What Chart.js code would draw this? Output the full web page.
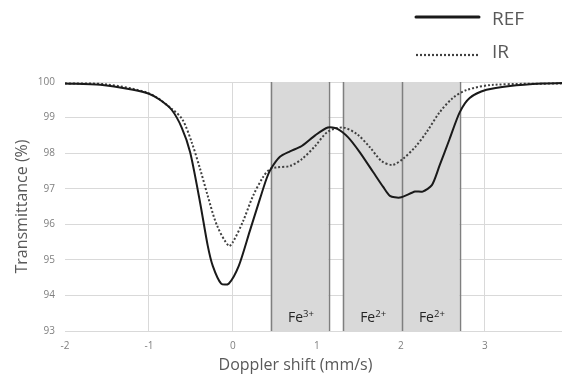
<!DOCTYPE html>
<html>
<head>
<meta charset="utf-8">
<script src="https://cdn.jsdelivr.net/npm/chart.js@4/dist/chart.umd.min.js"></script>
<style>
  html, body { margin: 0; padding: 0; background: #fff; }
  #wrap { width: 563px; height: 378px; }
</style>
</head>
<body>
<div id="wrap"><canvas id="chartMoss"></canvas></div>
<script>
// solid curve (REF)
const refX = [-2, -1.58, -1.19, -1.0, -0.87, -0.73, -0.61, -0.51, -0.39, -0.30, -0.24, -0.14, -0.05, 0.07, 0.20, 0.32, 0.40,
  0.45, 0.56, 0.68, 0.82, 0.98, 1.13, 1.24, 1.37, 1.51, 1.67, 1.79, 1.87, 1.99, 2.17, 2.26, 2.37, 2.46, 2.58, 2.70, 2.82,
  3.02, 3.30, 3.69, 3.92];
const refY = [99.96, 99.92, 99.78, 99.67, 99.5, 99.22, 98.72, 98.03, 96.6, 95.4, 94.83, 94.33, 94.33, 94.83, 95.8, 96.7, 97.28,
  97.55, 97.9, 98.05, 98.2, 98.5, 98.72, 98.69, 98.45, 98.03, 97.47, 97.05, 96.8, 96.75, 96.92, 96.92, 97.1, 97.64, 98.39, 99.14, 99.55,
  99.78, 99.89, 99.96, 99.97];

// dotted curve (IR)
const irX = [-2, -1.5, -1.0, -0.73, -0.60, -0.49, -0.39, -0.30, -0.19, -0.05, 0.0, 0.12, 0.24, 0.36, 0.44,
  0.52, 0.68, 0.82, 0.98, 1.13, 1.31, 1.48, 1.63, 1.77, 1.90, 2.02, 2.17, 2.31, 2.46, 2.62, 2.79, 3.10, 3.92];
const irY = [99.96, 99.93, 99.68, 99.25, 98.94, 98.3, 97.55, 96.8, 95.97, 95.39, 95.5, 96.08, 96.8, 97.33, 97.55,
  97.6, 97.64, 97.83, 98.2, 98.6, 98.72, 98.53, 98.17, 97.78, 97.67, 97.83, 98.17, 98.6, 99.14, 99.55, 99.78, 99.92, 99.96];

const seriesNames = ['REF', 'IR'];

// shaded bands and the vertical lines bounding them
const bandSpans = [[0.45, 1.14], [1.31, 2.70]];
const bandLines = [0.45, 1.14, 1.31, 2.01, 2.70];
const bandLabelX = [0.81, 1.67, 2.37];
const bandIons = ['3+', '2+', '2+'];

const xTicks = [-2, -1, 0, 1, 2, 3];
const xTitle = 'Doppler shift (mm/s)';

const toPts = (xs, ys) => xs.map((x, i) => ({x: x, y: ys[i]}));

const bandsPlugin = {
    id: 'bands',
    beforeDraw(chart) {
        const {ctx, chartArea, scales} = chart;
        const sx = scales.x;
        ctx.save();
        ctx.fillStyle = '#d9d9d9';
        bandSpans.forEach(([a, b]) => {
            const x1 = sx.getPixelForValue(a);
            const x2 = sx.getPixelForValue(b);
            ctx.fillRect(x1, chartArea.top, x2 - x1, chartArea.bottom - chartArea.top);
        });
        ctx.restore();
    },
    beforeDatasetsDraw(chart) {
        const {ctx, chartArea, scales} = chart;
        const sx = scales.x;
        ctx.save();
        ctx.strokeStyle = '#7f7f7f';
        ctx.lineWidth = 1.5;
        bandLines.forEach(v => {
            const x = Math.round(sx.getPixelForValue(v)) + 0.5;
            ctx.beginPath();
            ctx.moveTo(x, chartArea.top);
            ctx.lineTo(x, chartArea.bottom);
            ctx.stroke();
        });
        // Fe labels
        ctx.fillStyle = '#262626';
        ctx.textBaseline = 'alphabetic';
        bandLabelX.forEach((v, i) => {
            const cx = sx.getPixelForValue(v);
            ctx.font = '14px "Open Sans"';
            const w1 = ctx.measureText('Fe').width;
            ctx.font = '9.5px "Open Sans"';
            const w2 = ctx.measureText(bandIons[i]).width;
            const left = cx - (w1 + w2) / 2;
            const base = chartArea.bottom - 9;
            ctx.font = '14px "Open Sans"';
            ctx.textAlign = 'left';
            ctx.fillText('Fe', left, base);
            ctx.font = '9.5px "Open Sans"';
            ctx.fillText(bandIons[i], left + w1, base - 5);
        });
        ctx.restore();
    }
};

const legendPlugin = {
    id: 'sideLegend',
    afterDraw(chart) {
        const {ctx, chartArea} = chart;
        ctx.save();
        chart.data.datasets.forEach((ds, i) => {
            const y = 17 + i * 38;
            ctx.strokeStyle = ds.borderColor;
            ctx.lineWidth = i === 0 ? 3 : 2.2;
            ctx.setLineDash(ds.borderDash || []);
            ctx.lineCap = i === 0 ? 'round' : 'butt';
            ctx.beginPath();
            ctx.moveTo(416, y);
            ctx.lineTo(479, y);
            ctx.stroke();
            ctx.setLineDash([]);
            ctx.fillStyle = '#595959';
            ctx.font = '19px "Open Sans"';
            ctx.textAlign = 'left';
            ctx.textBaseline = 'middle';
            ctx.fillText(ds.label, 492, y + (i === 0 ? 3 : -2));
        });
        // x axis title, sits a bit left of the plot centre like the original
        ctx.fillStyle = '#595959';
        ctx.font = '16px "Open Sans"';
        ctx.textAlign = 'center';
        ctx.textBaseline = 'middle';
        ctx.fillText(xTitle, (chartArea.left + chartArea.right) / 2 - 18, 365);
        ctx.restore();
    }
};

const ctx = document.getElementById('chartMoss');
new Chart(ctx, {
    type: 'line',
    data: {
        datasets: [
            {
                label: seriesNames[0],
                data: toPts(refX, refY),
                borderColor: '#1a1a1a',
                borderWidth: 2,
                pointRadius: 0,
                tension: 0.25
            },
            {
                label: seriesNames[1],
                data: toPts(irX, irY),
                borderColor: '#404040',
                borderWidth: 2,
                borderDash: [2, 2],
                pointRadius: 0,
                tension: 0.3
            }
        ]
    },
    options: {
        responsive: true,
        maintainAspectRatio: false,
        animation: false,
        layout: { padding: { top: 82, right: 1, left: 0, bottom: 0 } },
        plugins: {
            legend: { display: false },
            tooltip: { enabled: false }
        },
        scales: {
            x: {
                type: 'linear',
                min: -2,
                max: 3.92,
                afterBuildTicks: (scale) => {
                    scale.ticks = xTicks.map(v => ({value: v}));
                },
                afterFit: (scale) => { scale.height = 47; },
                grid: {
                    color: (c) => c.tick && c.tick.value === -2 ? 'rgba(0,0,0,0)' : '#d9d9d9',
                    drawTicks: false
                },
                border: { display: false },
                ticks: {
                    color: '#7f7f7f',
                    font: { size: 10, family: 'Open Sans' },
                    padding: 9,
                    maxRotation: 0
                },
                title: { display: false }
            },
            y: {
                min: 93,
                max: 100,
                afterFit: (scale) => { scale.width = 65; },
                grid: {
                    color: '#d9d9d9',
                    drawTicks: false
                },
                border: { display: false },
                ticks: {
                    stepSize: 1,
                    color: '#7f7f7f',
                    font: { size: 10, family: 'Open Sans' },
                    padding: 10
                },
                title: {
                    display: true,
                    text: 'Transmittance (%)',
                    color: '#595959',
                    font: { size: 16, family: 'Open Sans' },
                    padding: { top: 13, bottom: 13 }
                }
            }
        }
    },
    plugins: [bandsPlugin, legendPlugin]
});
</script>
</body>
</html>
